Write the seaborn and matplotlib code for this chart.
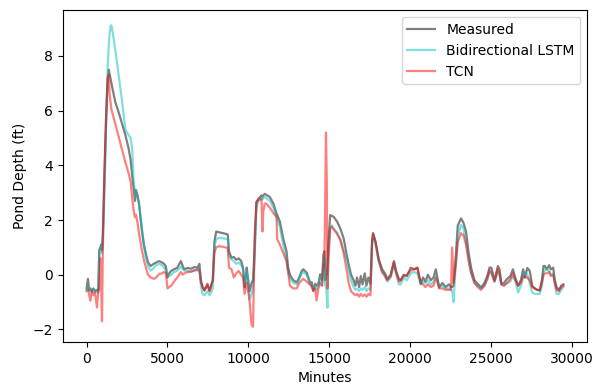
import numpy as np
import pandas as pd
import matplotlib
matplotlib.use("Agg")
import matplotlib.pyplot as plt
import seaborn as sns

minutes = [0, 80, 150, 230, 320, 420, 520, 640, 720, 780, 850, 900, 950, 1000, 1100, 1200, 1300, 1370,
           1420, 1480, 1530, 1600, 1780, 2000, 2200, 2400, 2600, 2720, 2820, 2920, 2990, 3050, 3150,
           3240, 3330, 3420, 3540, 3670, 3800, 3960, 4150, 4300, 4480, 4650, 4790, 4900, 5000, 5100,
           5230, 5400, 5600, 5830, 5950, 6040, 6250, 6450, 6650, 6870, 6970, 7070, 7160, 7280, 7470,
           7600, 7800, 7900, 8010, 8200, 8450, 8730, 8800, 8960, 9100, 9250, 9400, 9560, 9670, 9770,
           9900, 9970, 10080, 10200, 10290, 10390, 10500, 10650, 10810, 10870, 10920, 11010, 11120,
           11330, 11550, 11740, 11780, 11950, 12150, 12360, 12460, 12570, 12670, 12780, 12990, 13150,
           13300, 13400, 13600, 13810, 13920, 14020, 14130, 14220, 14330, 14440, 14560, 14640, 14700,
           14760, 14800, 14850, 14890, 14950, 15060, 15160, 15270, 15480, 15680, 15890, 16090, 16200,
           16350, 16510, 16620, 16720, 16850, 16950, 17060, 17200, 17300, 17420, 17550, 17650, 17710,
           17860, 18050, 18270, 18450, 18590, 18800, 19000, 19150, 19310, 19420, 19600, 19800, 20040,
           20250, 20450, 20660, 20800, 20950, 21100, 21280, 21450, 21590, 21700, 21800, 22000, 22200,
           22400, 22530, 22600, 22690, 22840, 22950, 23150, 23300, 23460, 23620, 23770, 23980, 24180,
           24390, 24600, 24800, 24910, 25020, 25220, 25430, 25530, 25640, 25800, 26000, 26200, 26360,
           26500, 26680, 26850, 26990, 27100, 27250, 27400, 27550, 27710, 27850, 28020, 28150, 28250,
           28330, 28450, 28600, 28700, 28850, 28950, 29060, 29200, 29350, 29480]

measured = [-0.50, -0.15, -0.55, -0.50, -0.60, -0.50, -0.60, -0.55, -0.60, 0.90, 1.00, 1.10, 0.90, 1.50,
            3.60, 5.60, 7.10, 7.50, 7.35, 7.15, 7.00, 6.80, 6.30, 5.90, 5.50, 5.10, 4.60, 4.20, 3.60,
            3.10, 2.70, 3.10, 2.90, 2.60, 2.10, 1.60, 1.10, 0.75, 0.45, 0.32, 0.40, 0.45, 0.50, 0.45,
            0.40, 0.30, -0.10, 0.05, 0.14, 0.20, 0.25, 0.50, 0.30, 0.20, 0.25, 0.22, 0.28, 0.26, 0.40,
            -0.20, -0.46, -0.58, -0.33, -0.58, -0.20, 1.20, 1.58, 1.55, 1.52, 1.47, 0.86, 0.62, 0.65,
            0.55, 0.60, 0.50, 0.26, -0.46, 0.26, -0.10, -0.60, -0.30, -0.20, 1.00, 2.66, 2.80, 2.90,
            2.85, 2.90, 2.96, 2.92, 2.84, 2.60, 2.24, 2.20, 1.94, 1.34, 0.86, 0.26, 0.00, -0.10, -0.20,
            -0.28, -0.10, 0.14, 0.20, 0.08, -0.27, -0.28, -0.58, -0.33, -0.40, -0.33, 0.02, -0.20, 0.74,
            0.86, -0.20, 0.10, 0.00, 0.30, 1.20, 2.18, 2.15, 2.12, 1.95, 1.70, 1.34, 0.70, 0.38, 0.00,
            -0.20, -0.40, -0.10, -0.45, -0.05, -0.35, 0.05, -0.40, -0.10, -0.33, 1.20, 1.52, 1.22, 0.60,
            0.20, 0.05, -0.15, 0.00, 0.50, 0.10, -0.15, -0.20, 0.00, -0.05, 0.26, 0.20, 0.26, -0.33,
            -0.10, -0.25, 0.00, -0.20, -0.10, 0.20, -0.15, -0.46, -0.30, -0.45, -0.35, -0.46, -0.45,
            -0.40, 0.80, 1.80, 2.06, 1.90, 1.58, 0.80, 0.26, -0.20, -0.33, -0.46, -0.30, 0.00, 0.26,
            0.26, -0.20, 0.32, 0.20, -0.33, -0.30, -0.15, -0.05, 0.20, -0.10, -0.40, -0.20, 0.20, -0.10,
            0.25, 0.14, -0.40, -0.50, -0.55, -0.58, -0.20, 0.32, 0.32, 0.20, 0.35, 0.20, 0.26, -0.20,
            -0.46, -0.55, -0.40, -0.35]

lstm = [-0.55, -0.45, -0.60, -0.55, -0.65, -0.55, -0.65, -0.60, -0.65, 0.70, 0.90, 1.00, 0.80, 1.20,
        3.00, 5.20, 7.60, 8.40, 8.80, 9.10, 9.12, 8.90, 8.20, 7.20, 6.30, 5.30, 5.10, 5.00, 4.60, 3.30,
        3.10, 3.00, 2.80, 2.60, 2.10, 1.70, 1.10, 0.62, 0.30, 0.15, 0.25, 0.35, 0.40, 0.35, 0.26, 0.15,
        0.00, -0.05, 0.00, 0.10, 0.15, 0.30, 0.20, 0.15, 0.15, 0.10, 0.18, 0.15, 0.25, -0.40, -0.70,
        -0.75, -0.60, -0.75, -0.50, 1.00, 1.30, 1.35, 1.33, 1.30, 0.70, 0.55, 0.50, 0.40, 0.45, 0.35,
        0.20, -0.40, 0.10, -0.30, -0.90, -0.70, -0.50, 0.60, 2.50, 2.70, 2.80, 2.75, 2.80, 2.85, 2.80,
        2.70, 2.45, 2.10, 2.05, 1.75, 1.10, 0.55, 0.10, -0.10, -0.20, -0.30, -0.35, -0.15, 0.05, 0.10,
        0.00, -0.35, -0.40, -0.55, -0.45, -0.55, -0.40, -0.10, -0.40, 0.50, 0.60, -0.40, -0.30, -0.80,
        -1.20, 0.80, 1.76, 1.80, 1.70, 1.55, 1.30, 0.90, 0.50, 0.20, -0.20, -0.45, -0.55, -0.50, -0.60,
        -0.50, -0.55, -0.45, -0.60, -0.50, -0.55, 1.10, 1.45, 1.15, 0.50, 0.10, -0.05, -0.25, -0.10,
        0.35, 0.00, -0.35, -0.35, -0.10, -0.20, 0.05, 0.10, 0.05, -0.35, -0.25, -0.30, -0.20, -0.35,
        -0.25, -0.05, -0.25, -0.40, -0.40, -0.50, -0.50, -0.55, -0.60, -1.00, 0.60, 1.40, 1.82, 1.70,
        1.20, 0.60, 0.10, -0.30, -0.40, -0.50, -0.40, -0.15, 0.10, 0.05, -0.25, 0.10, 0.00, -0.35,
        -0.40, -0.30, -0.25, -0.05, -0.20, -0.65, -0.40, -0.10, 0.10, 0.00, -0.30, -0.65, -0.70, -0.70,
        -0.70, -0.40, 0.10, 0.15, 0.20, 0.15, 0.00, 0.05, -0.35, -0.70, -0.70, -0.55, -0.45]

tcn = [-0.60, -0.55, -0.70, -0.95, -0.60, -0.75, -0.65, -1.20, -0.60, -0.50, 0.60, -0.40, -1.70, 0.80,
       3.80, 5.80, 7.20, 7.30, 6.60, 6.30, 6.05, 5.90, 5.50, 5.00, 4.55, 4.10, 3.70, 3.40, 2.80, 2.30,
       2.10, 2.20, 1.90, 1.50, 1.20, 0.90, 0.55, 0.25, 0.00, -0.10, -0.15, -0.10, 0.03, 0.05, 0.10,
       0.05, -0.50, -0.45, -0.40, -0.25, -0.10, 0.10, 0.00, 0.05, 0.10, 0.12, 0.15, 0.20, 0.15, -0.30,
       -0.40, -0.55, -0.40, -0.60, -0.20, 0.80, 1.00, 1.05, 1.02, 0.98, 0.26, 0.20, -0.10, 0.05, 0.14,
       0.00, -0.10, -0.70, -0.30, -0.50, -1.00, -1.83, -1.90, 1.46, 2.66, 2.75, 2.78, 1.58, 2.30, 2.60,
       2.60, 2.45, 2.25, 2.12, 1.30, 1.10, 0.80, 0.50, 0.10, -0.40, -0.45, -0.50, -0.50, -0.30, -0.20,
       -0.15, -0.25, -0.35, -0.45, -0.60, -0.50, -0.94, -0.50, -0.30, -0.40, 0.38, 0.30, 3.30, 5.20,
       3.40, -0.50, 0.50, 1.70, 1.76, 1.65, 1.50, 1.28, 0.80, 0.14, -0.30, -0.60, -0.70, -0.75, -0.70,
       -0.80, -0.70, -0.78, -0.72, -0.80, -0.70, -0.75, 1.20, 1.50, 1.20, 0.55, 0.10, -0.05, -0.20,
       -0.05, 0.45, 0.05, -0.25, -0.20, -0.05, 0.00, 0.15, 0.20, 0.25, -0.30, -0.35, -0.45, -0.35,
       -0.45, -0.40, -0.10, -0.30, -0.50, -0.50, -0.55, -0.55, -0.55, 1.00, -0.30, 0.40, 1.20, 1.52,
       1.45, 1.10, 0.50, 0.05, -0.30, -0.45, -0.55, -0.40, -0.10, 0.15, 0.10, -0.25, 0.20, 0.05,
       -0.35, -0.40, -0.30, -0.15, 0.05, -0.20, -0.40, -0.30, -0.05, -0.10, -0.10, -0.20, -0.45,
       -0.50, -0.55, -0.55, -0.30, 0.00, 0.05, 0.05, 0.10, -0.05, 0.00, -0.30, -0.55, -0.60, -0.45,
       -0.40]

series_names = ["Measured", "Bidirectional LSTM", "TCN"]
series_colors = ["black", "c", "red"]

frames = []
for name, vals in zip(series_names, [measured, lstm, tcn]):
    frames.append(pd.DataFrame({"Minutes": minutes, "Depth": vals, "Series": name}))
df = pd.concat(frames, ignore_index=True)

fig = plt.figure(figsize=(5.98, 3.92), dpi=100)
ax = fig.add_axes([0.105, 0.128, 0.877, 0.846])
for name, color in zip(series_names, series_colors):
    sub = df[df["Series"] == name]
    sns.lineplot(data=sub, x="Minutes", y="Depth", ax=ax, color=color, alpha=0.5,
                 linewidth=1.6, label=name, estimator=None, sort=False)

ax.set_xlabel("Minutes")
ax.set_ylabel("Pond Depth (ft)")
ax.set_xticks([0, 5000, 10000, 15000, 20000, 25000, 30000])
ax.set_yticks([-2, 0, 2, 4, 6, 8])
ax.legend(loc="upper right")
fig.savefig("out.png", dpi=100)
